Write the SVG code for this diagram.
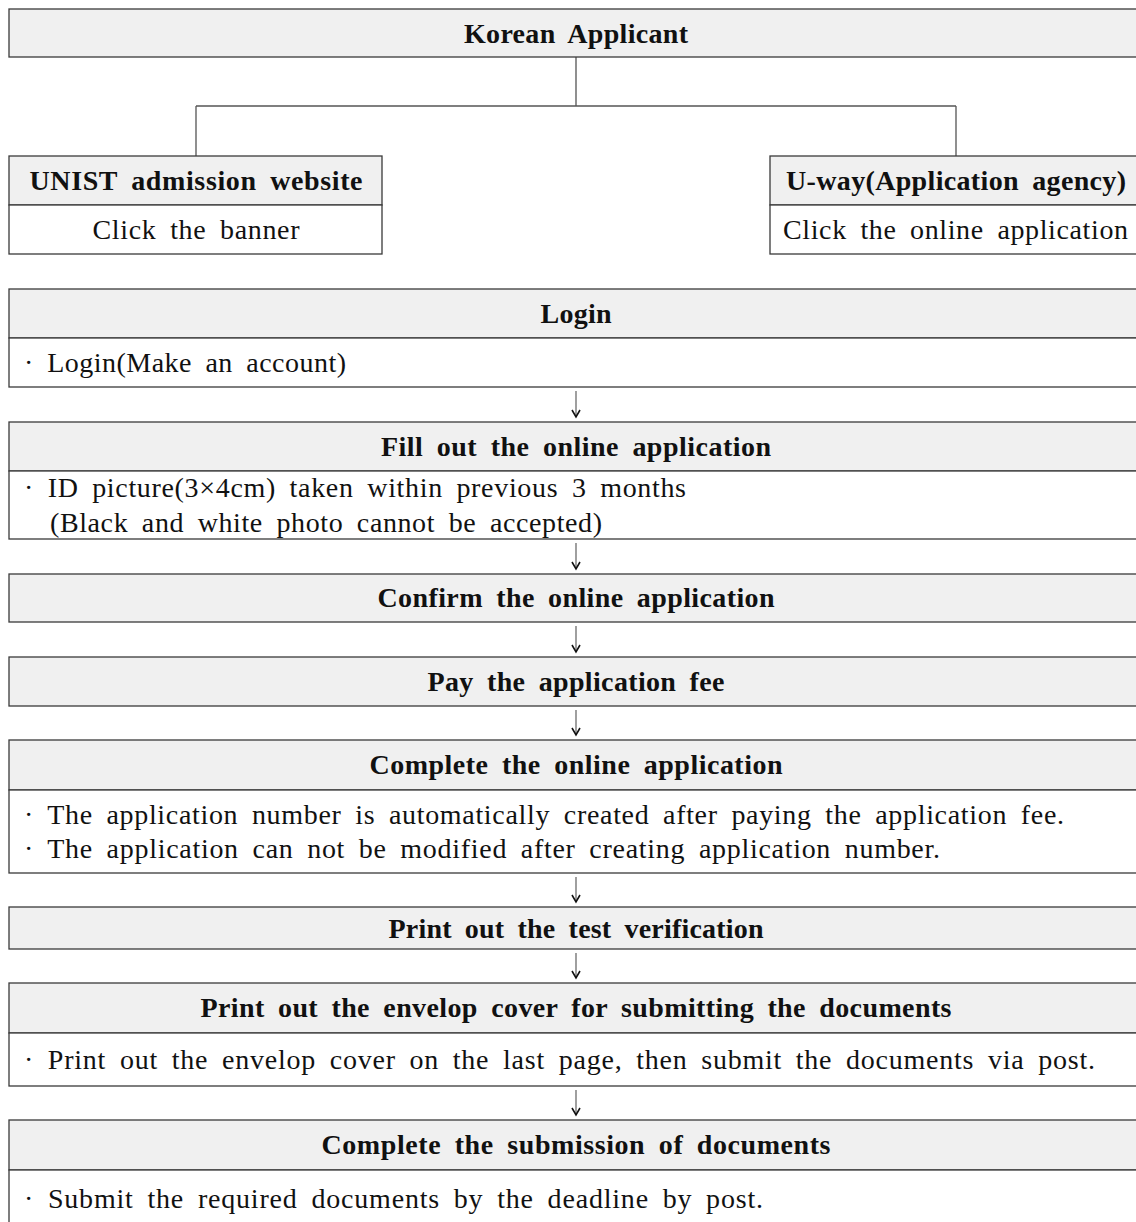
<svg xmlns="http://www.w3.org/2000/svg" width="1136" height="1222" viewBox="0 0 1136 1222">
<style>
.hd{fill:#f0f0f0;stroke:#3a3a3a;stroke-width:1.3}
.bd{fill:#ffffff;stroke:#3a3a3a;stroke-width:1.3}
.ln{fill:none;stroke:#555;stroke-width:1.3}
.ar{fill:none;stroke:#777;stroke-width:1.4}
text{font-family:"Liberation Serif","DejaVu Serif",serif;font-size:28px;fill:#111;word-spacing:6px}
.b{font-weight:bold}
.c{text-anchor:middle}
</style>
<defs>
<marker id="ah" markerWidth="10" markerHeight="10" refX="8" refY="5" orient="auto" markerUnits="userSpaceOnUse" viewBox="0 0 10 10">
<path d="M1,1 L8,5 L1,9" fill="none" stroke="#111" stroke-width="1.6"/>
</marker>
</defs>
<rect width="1136" height="1222" fill="#ffffff"/>

<g id="connectors">
<path class="ln" d="M576,57 V106 M196,106 H956 M196,106 V156 M956,106 V156"/>
<path class="ar" d="M576,391 V417" marker-end="url(#ah)"/>
<path class="ar" d="M576,543 V569" marker-end="url(#ah)"/>
<path class="ar" d="M576,626 V652" marker-end="url(#ah)"/>
<path class="ar" d="M576,710 V735" marker-end="url(#ah)"/>
<path class="ar" d="M576,877 V902" marker-end="url(#ah)"/>
<path class="ar" d="M576,953 V978" marker-end="url(#ah)"/>
<path class="ar" d="M576,1090 V1115" marker-end="url(#ah)"/>
</g>

<g id="korean-applicant">
<rect class="hd" x="9" y="9" width="1140" height="48"/>
<text class="c b" x="576" y="43" textLength="224" lengthAdjust="spacing">Korean Applicant</text>
</g>

<g id="unist">
<rect class="hd" x="9" y="156" width="373" height="49"/>
<rect class="bd" x="9" y="205" width="373" height="49"/>
<text class="c b" x="196" y="190" textLength="333" lengthAdjust="spacing">UNIST admission website</text>
<text class="c" x="196" y="239" textLength="207" lengthAdjust="spacing">Click the banner</text>
</g>

<g id="uway">
<rect class="hd" x="770" y="156" width="380" height="49"/>
<rect class="bd" x="770" y="205" width="380" height="49"/>
<text class="c b" x="956" y="190" textLength="340" lengthAdjust="spacing">U-way(Application agency)</text>
<text x="783" y="239" textLength="345" lengthAdjust="spacing">Click the online application</text>
</g>

<g id="login">
<rect class="hd" x="9" y="289" width="1140" height="49"/>
<rect class="bd" x="9" y="338" width="1140" height="49"/>
<text class="c b" x="576" y="323" textLength="71" lengthAdjust="spacing">Login</text>
<text x="24" y="372" textLength="322" lengthAdjust="spacing">· Login(Make an account)</text>
</g>

<g id="fill-out">
<rect class="hd" x="9" y="422" width="1140" height="49"/>
<rect class="bd" x="9" y="471" width="1140" height="68"/>
<text class="c b" x="576" y="456" textLength="390" lengthAdjust="spacing">Fill out the online application</text>
<text x="24" y="497" textLength="662" lengthAdjust="spacing">· ID picture(3×4cm) taken within previous 3 months</text>
<text x="50" y="532" textLength="552" lengthAdjust="spacing">(Black and white photo cannot be accepted)</text>
</g>

<g id="confirm">
<rect class="hd" x="9" y="574" width="1140" height="48"/>
<text class="c b" x="576" y="607" textLength="397" lengthAdjust="spacing">Confirm the online application</text>
</g>

<g id="pay">
<rect class="hd" x="9" y="657" width="1140" height="49"/>
<text class="c b" x="576" y="691" textLength="297" lengthAdjust="spacing">Pay the application fee</text>
</g>

<g id="complete-online">
<rect class="hd" x="9" y="740" width="1140" height="50"/>
<rect class="bd" x="9" y="790" width="1140" height="83"/>
<text class="c b" x="576" y="774" textLength="413" lengthAdjust="spacing">Complete the online application</text>
<text x="24" y="824" textLength="1040" lengthAdjust="spacing">· The application number is automatically created after paying the application fee.</text>
<text x="24" y="858" textLength="916" lengthAdjust="spacing">· The application can not be modified after creating application number.</text>
</g>

<g id="print-test">
<rect class="hd" x="9" y="907" width="1140" height="42"/>
<text class="c b" x="576" y="938" textLength="375" lengthAdjust="spacing">Print out the test verification</text>
</g>

<g id="print-envelop">
<rect class="hd" x="9" y="983" width="1140" height="50"/>
<rect class="bd" x="9" y="1033" width="1140" height="53"/>
<text class="c b" x="576" y="1017" textLength="751" lengthAdjust="spacing">Print out the envelop cover for submitting the documents</text>
<text x="24" y="1069" textLength="1071" lengthAdjust="spacing">· Print out the envelop cover on the last page, then submit the documents via post.</text>
</g>

<g id="complete-submission">
<rect class="hd" x="9" y="1120" width="1140" height="50"/>
<rect class="bd" x="9" y="1170" width="1140" height="70"/>
<text class="c b" x="576" y="1154" textLength="509" lengthAdjust="spacing">Complete the submission of documents</text>
<text x="24" y="1208" textLength="739" lengthAdjust="spacing">· Submit the required documents by the deadline by post.</text>
</g>
</svg>
